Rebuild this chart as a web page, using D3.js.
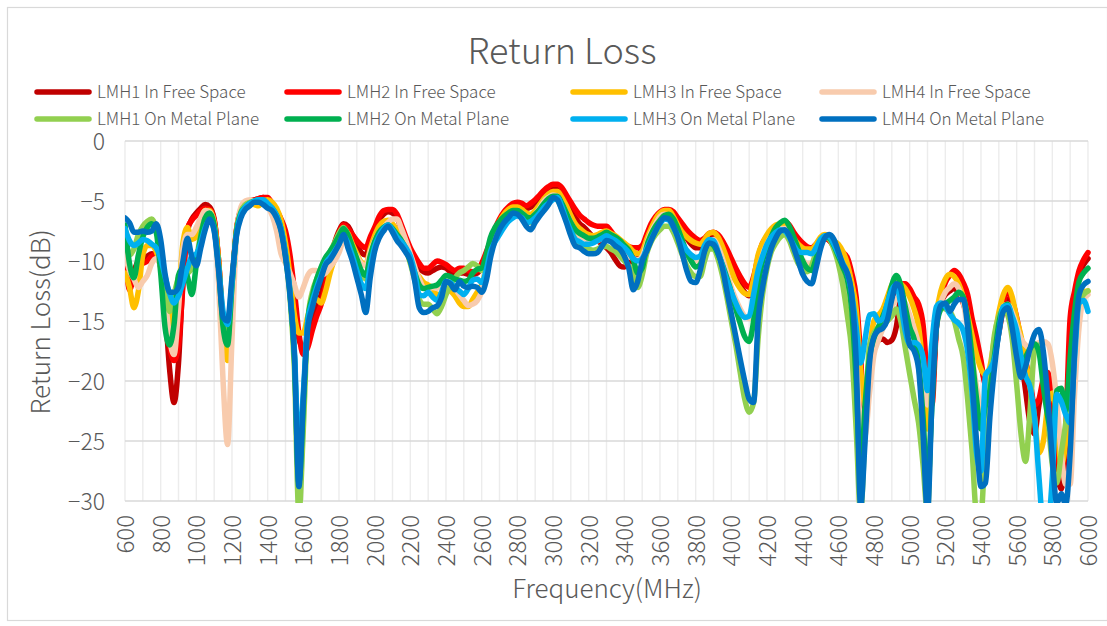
<!DOCTYPE html>
<html>
<head>
<meta charset="utf-8">
<script src="https://cdn.jsdelivr.net/npm/d3@7"></script>
<style>
body { margin: 0; background: #fff; }
text { font-family: "Noto Sans CJK SC", "Noto Sans", sans-serif; fill: #595959; font-weight: 300; }
</style>
</head>
<body>
<svg id="chart" width="1107" height="626"></svg>
<script>
// frequency axis, one sample every 25 MHz
var freqs = d3.range(600, 6001, 25);
var xTicks = d3.range(600, 6001, 200);
var yTicks = [0, -5, -10, -15, -20, -25, -30];

var names = ['LMH1 In Free Space', 'LMH2 In Free Space', 'LMH3 In Free Space', 'LMH4 In Free Space',
             'LMH1 On Metal Plane', 'LMH2 On Metal Plane', 'LMH3 On Metal Plane', 'LMH4 On Metal Plane'];
var colors = ['#C00000', '#FF0000', '#FFC000', '#F8CBAD', '#92D050', '#00B050', '#00B0F0', '#0070C0'];

// each line = 200 MHz (8 samples)
var lmh1Free = [
  -8.5, -11.5, -10.8, -10.0, -9.8, -9.6, -9.4, -9.5,
  -10.5, -14.0, -19.0, -21.8, -18.5, -11.5, -7.5, -6.5,
  -6.0, -5.6, -5.3, -5.5, -6.5, -10.0, -15.0, -16.5,
  -12.0, -7.4, -5.7, -5.2, -5.0, -4.9, -4.8, -4.7,
  -4.8, -5.3, -6.0, -6.9, -8.2, -10.5, -13.5, -16.5,
  -17.2, -16.5, -15.3, -14.0, -12.8, -11.3, -9.8, -8.5,
  -7.5, -6.9, -7.1, -7.8, -8.6, -9.3, -9.5, -8.4,
  -7.5, -6.6, -6.1, -5.9, -6.0, -6.4, -7.3, -8.4,
  -9.3, -10.0, -10.6, -10.9, -11.0, -10.8, -10.6, -10.5,
  -10.6, -10.9, -11.1, -11.0, -11.0, -11.1, -11.1, -11.0,
  -10.5, -9.5, -8.5, -7.5, -6.7, -6.1, -5.7, -5.4,
  -5.3, -5.4, -5.6, -5.5, -5.2, -4.8, -4.4, -4.1,
  -3.9, -3.9, -4.3, -5.0, -5.7, -6.4, -6.9, -7.2,
  -7.6, -8.0, -8.3, -8.6, -8.9, -9.3, -9.9, -10.4,
  -10.5, -10.2, -9.8, -9.5, -9.0, -8.0, -7.1, -6.5,
  -6.1, -5.9, -5.9, -6.2, -6.8, -7.5, -8.1, -8.6,
  -8.9, -8.9, -8.4, -7.9, -7.8, -8.2, -8.9, -9.7,
  -10.5, -11.3, -12.0, -12.6, -12.9, -12.0, -10.2, -8.9,
  -8.2, -7.7, -7.3, -7.1, -7.0, -7.3, -7.9, -8.5,
  -8.9, -9.2, -9.3, -8.9, -8.4, -8.1, -8.3, -8.8,
  -9.2, -9.6, -10.2, -11.8, -15.5, -21, -24, -20,
  -17.5, -16.6, -16.5, -16.8, -16.6, -15.5, -13.0, -12.2,
  -12.5, -13.2, -14.2, -17, -22, -21, -15.5, -13.5,
  -12.8, -12.5, -12.3, -12.7, -13.5, -14.8, -16.3, -17.6,
  -18.8, -20.0, -19.6, -18.0, -16.0, -14.0, -13.2, -14.0,
  -15.6, -18.0, -20.8, -23.5, -24.4, -22, -20.5, -21.5,
  -24.0, -27.5, -29, -25, -16.5, -13.0, -11.2, -10.3,
  -9.8
];
var lmh2Free = [
  -8.3, -12.4, -11.3, -10.4, -10.2, -10.0, -9.6, -9.4,
  -10.0, -13.0, -17.0, -18.3, -17.0, -12.0, -7.3, -6.6,
  -6.2, -5.8, -5.6, -5.7, -6.6, -10.0, -15.5, -16.5,
  -12.0, -7.5, -5.8, -5.2, -5.0, -4.9, -4.8, -4.7,
  -4.7, -5.2, -5.8, -6.5, -7.5, -9.5, -12.5, -16.0,
  -17.8, -17.2, -15.8, -14.6, -13.6, -12.0, -10.2, -8.8,
  -7.7, -7.0, -7.3, -7.8, -8.3, -8.7, -8.9, -8.0,
  -7.2, -6.3, -5.8, -5.7, -5.7, -6.1, -7.0, -8.0,
  -8.9, -9.6, -10.2, -10.6, -10.6, -10.3, -10.0, -10.1,
  -10.3, -10.6, -10.8, -10.6, -10.6, -10.8, -10.9, -10.8,
  -10.2, -9.3, -8.3, -7.3, -6.5, -5.9, -5.5, -5.2,
  -5.1, -5.2, -5.4, -5.2, -4.9, -4.5, -4.1, -3.8,
  -3.6, -3.6, -3.9, -4.5, -5.1, -5.7, -6.2, -6.5,
  -6.8, -7.0, -7.1, -7.1, -7.1, -7.5, -8.0, -8.3,
  -8.6, -8.8, -8.9, -8.9, -8.7, -7.8, -6.9, -6.3,
  -5.9, -5.7, -5.7, -5.9, -6.4, -6.9, -7.4, -7.8,
  -8.1, -8.3, -8.1, -7.7, -7.6, -7.8, -8.3, -9.0,
  -9.8, -10.6, -11.3, -11.9, -12.2, -11.3, -9.7, -8.5,
  -8.0, -7.6, -7.2, -6.9, -6.7, -7.0, -7.6, -8.1,
  -8.5, -8.8, -8.9, -8.6, -8.2, -8.0, -8.3, -8.7,
  -9.0, -9.3, -9.7, -11.0, -13.0, -18, -24, -19,
  -16.5, -15.8, -15.0, -14.0, -13.0, -12.3, -11.9, -11.9,
  -12.3, -13.0, -13.6, -15.3, -20, -22, -15.5, -13.0,
  -11.8, -11.2, -10.8, -11.1, -11.8, -12.8, -14.8, -16.4,
  -18.3, -20.3, -19.5, -17.8, -15.8, -13.5, -12.5, -13.3,
  -14.7, -16.6, -18.3, -20.0, -22, -21.5, -19.8, -19.3,
  -21.5, -25, -28, -24, -14.7, -12.5, -10.8, -9.9,
  -9.3
];
var lmh3Free = [
  -11.0, -12.2, -13.9, -12.5, -9.5, -8.7, -8.7, -9.2,
  -10.5, -12.5, -13.9, -16.2, -13, -8.5, -7.2, -8.2,
  -8.0, -6.6, -5.8, -5.8, -6.8, -10.0, -15.5, -18.3,
  -12.5, -7.5, -5.9, -5.4, -5.2, -5.3, -5.4, -5.0,
  -4.9, -5.1, -5.6, -6.6, -8.5, -11.2, -14.5, -16.0,
  -16.0, -14.6, -13.5, -13.2, -13.5, -12.5, -11.0, -9.8,
  -8.5, -7.4, -7.7, -8.6, -9.4, -10.1, -10.3, -9.0,
  -7.9, -7.1, -6.7, -6.6, -6.9, -7.4, -8.0, -8.9,
  -10.0, -10.8, -11.3, -11.8, -12.0, -12.3, -12.8, -12.8,
  -12.3, -12.5, -12.9, -13.5, -13.8, -13.8, -13.2, -12.6,
  -12.0, -10.6, -8.9, -7.6, -6.7, -6.1, -5.7, -5.5,
  -5.5, -5.7, -6.0, -6.1, -5.8, -5.3, -4.8, -4.4,
  -4.2, -4.2, -4.7, -5.4, -6.2, -6.9, -7.3, -7.6,
  -7.8, -7.9, -7.8, -7.6, -7.5, -7.7, -7.9, -8.2,
  -8.5, -8.8, -9.2, -9.4, -9.2, -8.2, -7.3, -6.5,
  -6.0, -5.8, -5.8, -6.3, -7.0, -7.6, -8.0, -8.3,
  -8.5, -8.6, -8.2, -7.7, -7.6, -8.0, -8.8, -9.8,
  -10.8, -11.7, -12.3, -12.7, -12.8, -11.5, -9.5, -8.5,
  -7.8, -7.3, -7.0, -6.9, -7.0, -7.5, -8.1, -8.6,
  -8.9, -9.0, -9.0, -8.6, -8.0, -7.8, -8.0, -8.3,
  -8.6, -9.2, -10.2, -11.8, -14, -19, -22, -17.5,
  -15.0, -14.5, -14.0, -13.0, -12.0, -11.6, -11.9, -12.3,
  -13.0, -14.0, -15.5, -19, -24, -19, -14.5, -12.5,
  -11.5, -11.1, -11.3, -11.9, -13.0, -14.5, -16.2, -17.8,
  -19.0, -19.5, -18.8, -16.5, -14.3, -12.8, -12.2, -13.0,
  -14.8, -16.3, -18.3, -20.5, -23, -26, -25, -22,
  -21, -23, -27, -25, -20, -15.5, -13.3, -12.6,
  -12.5
];
var lmh4Free = [
  -9.5, -10.8, -11.5, -12.2, -11.7, -11.2, -10.2, -9.8,
  -10.5, -13.0, -16.5, -17.8, -14.0, -9.0, -7.8, -7.8,
  -7.2, -6.4, -5.8, -5.9, -7.0, -12.0, -20, -25.3,
  -16.5, -8.0, -5.5, -5.0, -4.9, -5.0, -5.1, -5.1,
  -5.5, -6.2, -7.5, -9.4, -10.2, -11.0, -12.0, -13.0,
  -12.2, -11.2, -10.8, -10.8, -11.2, -11.0, -10.5, -10.0,
  -9.3, -8.4, -8.4, -9.0, -9.6, -10.2, -10.4, -9.2,
  -8.3, -7.6, -7.2, -6.8, -6.5, -6.5, -7.3, -8.3,
  -9.4, -10.5, -11.5, -12.2, -12.3, -12.2, -12.3, -12.0,
  -11.6, -11.9, -12.3, -12.8, -13.3, -13.7, -13.6, -13.3,
  -12.5, -10.5, -9.0, -7.8, -7.0, -6.5, -6.2, -6.0,
  -5.9, -6.0, -6.3, -6.5, -6.1, -5.6, -5.0, -4.7,
  -4.5, -4.6, -5.2, -6.0, -6.8, -7.5, -7.9, -8.1,
  -8.3, -8.4, -8.3, -8.1, -7.9, -8.2, -8.6, -9.0,
  -9.3, -9.6, -9.8, -9.9, -9.6, -8.6, -7.6, -6.9,
  -6.3, -6.1, -6.2, -6.7, -7.5, -8.5, -9.3, -9.8,
  -10.0, -9.8, -8.9, -8.3, -8.2, -8.8, -9.8, -11.0,
  -12.2, -13.2, -14.0, -14.6, -14.8, -13.2, -11.0, -9.5,
  -8.6, -7.9, -7.5, -7.3, -7.3, -7.8, -8.6, -9.4,
  -9.9, -10.2, -10.2, -9.4, -8.6, -8.0, -8.1, -8.7,
  -9.5, -10.5, -11.8, -14, -18.5, -23.5, -24.5, -21,
  -17.8, -16.6, -15.6, -14.6, -13.8, -13.2, -13.0, -13.5,
  -14.5, -15.6, -17.0, -19.5, -22, -20, -15.5, -13.5,
  -12.6, -12.2, -11.9, -12.3, -13.4, -15.5, -18.0, -20.5,
  -22.5, -24, -22, -17.5, -15.0, -13.8, -13.6, -14.3,
  -15.4, -16.5, -17.0, -17.3, -17.0, -16.8, -16.7, -16.9,
  -18.5, -21.7, -26, -28.6, -28.6, -21, -15.5, -13.2,
  -12.8
];
var lmh1Metal = [
  -7.5, -9.5, -9.0, -7.8, -7.1, -6.7, -6.5, -7.3,
  -9.5, -12.3, -14.2, -12.8, -11.4, -11.0, -11.0, -10.6,
  -9.8, -7.8, -6.4, -6.2, -7.2, -10.5, -15.0, -16.5,
  -12, -7.6, -5.9, -5.3, -5.1, -5.0, -4.9, -5.0,
  -5.3, -5.7, -6.3, -7.4, -9.6, -13, -19, -31,
  -24, -15, -12.6, -11.5, -10.6, -9.8, -9.2, -8.5,
  -7.7, -7.2, -7.8, -8.9, -10.0, -11.0, -11.5, -9.8,
  -8.5, -7.6, -7.2, -7.0, -7.3, -7.8, -8.3, -9.0,
  -10.2, -11.6, -13.2, -13.6, -13.6, -14.0, -14.4, -13.8,
  -12.8, -12.0, -11.4, -11.0, -10.8, -10.5, -10.2, -10.4,
  -10.8, -10.0, -8.6, -7.6, -7.0, -6.6, -6.3, -6.1,
  -6.1, -6.3, -6.7, -6.8, -6.4, -5.9, -5.4, -5.0,
  -4.7, -4.9, -5.7, -6.6, -7.5, -8.2, -8.5, -8.8,
  -9.0, -9.1, -9.0, -8.8, -8.8, -9.0, -9.2, -9.6,
  -10.0, -10.4, -11.0, -12.2, -11.2, -9.4, -8.4, -7.8,
  -7.4, -7.1, -7.1, -7.6, -8.5, -9.5, -10.4, -11.0,
  -11.3, -11.3, -10.0, -9.0, -9.0, -9.8, -11.2, -13.0,
  -15.0, -17.0, -19.3, -21.5, -22.6, -21.8, -16.5, -12.8,
  -10.6, -9.2, -8.5, -8.0, -7.8, -8.3, -9.3, -10.2,
  -10.7, -10.9, -10.4, -9.3, -8.5, -8.0, -8.2, -9.0,
  -10.2, -12.0, -14.5, -17.5, -24, -31, -24, -17,
  -16, -15.5, -15.3, -15.0, -14.6, -14.0, -15.0, -17.2,
  -19.4, -21.5, -23.5, -27, -31, -20, -15, -13.9,
  -14.0, -14.2, -15.0, -16.5, -18, -21.5, -25.8, -31,
  -31, -25, -20, -16.2, -14.6, -14.0, -14.5, -16.5,
  -20.3, -24.5, -26.7, -22.5, -17.5, -17.0, -19, -23,
  -27, -28.5, -26, -23.5, -20, -16, -13.5, -12.8,
  -12.5
];
var lmh2Metal = [
  -7.0, -10.2, -11.4, -9.5, -8.0, -7.2, -6.9, -7.6,
  -11.0, -15.6, -17.0, -15.3, -11.2, -10.6, -11.3, -12.8,
  -10.3, -8.0, -6.4, -6.0, -7.0, -10.5, -15.5, -17.0,
  -12, -7.6, -6.0, -5.5, -5.2, -5.0, -4.9, -5.0,
  -5.3, -5.6, -6.2, -7.3, -9.5, -12.6, -18, -28.5,
  -22, -15, -13, -11.5, -10.5, -9.7, -9.2, -8.6,
  -7.9, -7.3, -7.8, -8.8, -9.8, -10.8, -11.2, -9.6,
  -8.4, -7.6, -7.2, -7.0, -7.3, -7.8, -8.3, -9.0,
  -10.0, -11.0, -12.0, -12.3, -12.2, -12.1, -12.0, -11.6,
  -11.2, -11.3, -11.5, -11.6, -11.7, -11.6, -11.0, -10.7,
  -10.6, -9.5, -8.0, -7.2, -6.7, -6.3, -6.0, -5.8,
  -5.8, -6.0, -6.3, -6.4, -6.1, -5.7, -5.2, -4.8,
  -4.6, -4.6, -5.2, -6.0, -6.8, -7.4, -7.7, -7.9,
  -8.1, -8.1, -8.0, -7.8, -7.6, -7.8, -8.0, -8.3,
  -8.7, -9.1, -9.9, -11.0, -10.6, -8.8, -7.8, -7.1,
  -6.6, -6.2, -6.1, -6.5, -7.3, -8.3, -9.3, -10.0,
  -10.5, -10.3, -9.1, -8.5, -8.7, -9.4, -10.3, -11.4,
  -12.6, -14.0, -15.2, -16.3, -16.7, -15.0, -12.0, -10.0,
  -8.8, -7.9, -7.2, -6.8, -6.6, -7.1, -8.0, -9.0,
  -10.0, -10.6, -10.8, -9.8, -8.7, -8.0, -8.1, -8.7,
  -9.6, -10.5, -11.5, -14, -20, -28, -22, -18,
  -16.4, -15.5, -14.6, -13.6, -12.0, -11.2, -12.0, -13.8,
  -15.5, -16.5, -18.5, -23, -29, -22, -15.5, -14.0,
  -13.6, -13.3, -13.0, -12.6, -13.0, -14.8, -18, -21.5,
  -24, -22, -20.8, -18, -15.2, -13.9, -13.6, -15.2,
  -17.5, -18.5, -18.0, -17.3, -16.9, -17.6, -20.5, -23,
  -24.5, -20.8, -20.6, -22.5, -18, -14.2, -11.7, -11.0,
  -10.6
];
var lmh3Metal = [
  -7.3, -8.3, -8.7, -8.5, -8.2, -8.3, -8.6, -8.9,
  -9.8, -11.3, -12.7, -13.5, -12.9, -11.8, -10.6, -9.6,
  -9.4, -8.5, -7.2, -6.6, -7.4, -10.5, -14.2, -15.3,
  -11.8, -7.8, -6.1, -5.5, -5.2, -5.0, -4.9, -4.9,
  -5.2, -5.6, -6.2, -7.3, -9.4, -12.5, -17.5, -26,
  -21, -15, -13.4, -12.2, -11.2, -10.2, -9.7, -9.2,
  -8.6, -7.9, -8.5, -9.6, -10.8, -11.9, -12.3, -10.5,
  -8.8, -7.9, -7.3, -7.0, -7.4, -8.0, -8.4, -8.9,
  -9.6, -11.0, -12.8, -12.9, -12.6, -13.0, -13.3, -12.6,
  -11.7, -11.8, -12.2, -12.5, -12.8, -12.3, -11.6, -11.5,
  -11.8, -10.8, -9.2, -8.4, -7.8, -7.2, -6.7, -6.4,
  -6.25, -6.4, -6.8, -6.7, -6.4, -6.0, -5.5, -5.2,
  -4.9, -4.7, -5.5, -6.6, -7.5, -8.2, -8.4, -8.6,
  -8.6, -8.5, -8.3, -8.1, -7.9, -8.1, -8.3, -8.6,
  -8.9, -9.3, -9.8, -10.0, -9.8, -9.0, -8.2, -7.5,
  -6.9, -6.5, -6.6, -7.2, -7.9, -8.6, -9.1, -9.5,
  -9.7, -9.6, -8.7, -8.2, -8.3, -9.2, -10.4, -11.6,
  -12.6, -13.5, -14.3, -14.7, -14.6, -12.8, -10.8, -9.6,
  -8.6, -8.0, -7.6, -7.4, -7.5, -8.0, -8.7, -9.2,
  -9.3, -9.3, -9.4, -8.9, -8.2, -7.9, -8.0, -8.6,
  -9.4, -10.2, -11.0, -12.7, -15.5, -18.5, -16.5, -14.5,
  -14.4, -15.0, -14.8, -13.5, -12.4, -12.0, -13.6, -15.8,
  -16.9, -16.8, -17.0, -18, -20.8, -16.8, -13.8, -13.5,
  -13.8, -14.4, -14.9, -15.2, -15.8, -17.5, -21, -26,
  -27.5, -19.5, -19.0, -18.2, -16.0, -13.8, -13.7, -14.6,
  -15.8, -18, -19.6, -20.5, -23, -28, -32, -32,
  -28, -21.1, -21.7, -22.8, -23.5, -18, -13.5, -13.3,
  -14.2
];
var lmh4Metal = [
  -6.4, -6.8, -7.6, -7.6, -7.5, -7.6, -7.5, -6.9,
  -8.2, -11.1, -12.6, -12.6, -12.2, -10.0, -8.1, -9.7,
  -10.4, -8.9, -7.4, -6.5, -7.5, -10.8, -14.7, -15.0,
  -11.4, -7.9, -6.4, -5.7, -5.4, -5.1, -5.1, -5.3,
  -5.6, -5.8, -6.4, -7.5, -9.7, -12.8, -17.8, -28.8,
  -21.5, -15.6, -13.9, -12.5, -11.4, -10.3, -9.9, -9.3,
  -8.6, -7.8, -8.9, -10.0, -11.4, -12.8, -14.3, -11.4,
  -9.2, -8.1, -7.5, -7.1, -7.6, -8.3, -8.75, -9.3,
  -10.0, -11.7, -13.9, -14.3, -14.2, -13.9, -13.75, -13.05,
  -11.7, -11.9, -12.4, -11.7, -12.1, -12.2, -12.1, -12.2,
  -12.6, -11.7, -9.7, -8.3, -7.4, -6.8, -6.4, -6.0,
  -6.1, -6.5, -7.1, -7.4, -6.8, -6.25, -5.8, -5.3,
  -4.7, -4.9, -5.8, -6.8, -7.9, -8.75, -8.9, -9.2,
  -9.4, -9.4, -9.3, -8.75, -8.3, -8.4, -8.75, -9.0,
  -9.6, -10.6, -12.4, -11.7, -10.0, -9.2, -8.3, -7.5,
  -6.8, -6.4, -6.5, -7.1, -8.05, -9.4, -10.8, -11.7,
  -11.8, -10.8, -9.2, -8.5, -8.6, -9.3, -10.6, -12.5,
  -14.4, -16.3, -18.2, -20.0, -21.5, -21.8, -15.0, -12.2,
  -10.3, -8.9, -8.05, -7.5, -7.4, -7.9, -8.9, -10.0,
  -11.1, -11.7, -11.9, -10.6, -9.0, -8.05, -7.8, -8.2,
  -9.2, -10.3, -11.0, -12.8, -18.3, -30.5, -25, -18.5,
  -16.3, -15.8, -15.6, -14.9, -13.2, -11.9, -12.3, -14.8,
  -17.0, -17.5, -19.0, -24.4, -31, -21.7, -15.5, -13.7,
  -13.5, -14.2, -13.6, -13.2, -13.2, -15.5, -20, -25,
  -28.8, -28.5, -23, -19, -15.9, -14.2, -13.9, -15.6,
  -18.0, -19.7, -18.8, -17.3, -16.1, -15.7, -17.6, -21.5,
  -26.5, -30.2, -29.4, -30.3, -26, -17.5, -12.8, -12,
  -11.7
];

var series = [lmh1Free, lmh2Free, lmh3Free, lmh4Free, lmh1Metal, lmh2Metal, lmh3Metal, lmh4Metal];

var width = 1107, height = 626;
var plot = {left: 125, right: 1088, top: 141, bottom: 501};

var svg = d3.select('#chart');

// outer frame of the chart area
svg.append('rect')
  .attr('x', 7.5).attr('y', 7.5)
  .attr('width', 1100).attr('height', 613)
  .attr('fill', '#fff').attr('stroke', '#d9d9d9').attr('stroke-width', 1.2);

var x = d3.scaleLinear().domain([600, 6000]).range([plot.left, plot.right]);
var y = d3.scaleLinear().domain([-30, 0]).range([plot.bottom, plot.top]);

// vertical gridlines every 100 MHz
svg.append('g').selectAll('line')
  .data(d3.range(600, 6001, 100))
  .enter().append('line')
  .attr('x1', function (d) { return x(d); })
  .attr('x2', function (d) { return x(d); })
  .attr('y1', plot.top).attr('y2', plot.bottom)
  .attr('stroke', '#ececec').attr('stroke-width', 1.4);

// horizontal gridlines
svg.append('g').selectAll('line')
  .data(yTicks)
  .enter().append('line')
  .attr('x1', plot.left).attr('x2', plot.right)
  .attr('y1', function (d) { return y(d); })
  .attr('y2', function (d) { return y(d); })
  .attr('stroke', '#d9d9d9').attr('stroke-width', 1.4);

// y axis labels
var yAxis = svg.append('g')
  .attr('transform', 'translate(' + (plot.left - 20) + ',0)')
  .call(d3.axisLeft(y).tickValues(yTicks).tickSize(0).tickFormat(d3.format('d')));
yAxis.select('.domain').remove();
yAxis.selectAll('text')
  .attr('x', 0).attr('dy', '0.35em')
  .style('font-size', '23px').style('font-family', null);

// x axis labels, rotated
var xAxis = svg.append('g')
  .attr('transform', 'translate(0,' + plot.bottom + ')')
  .call(d3.axisBottom(x).tickValues(xTicks).tickSize(0).tickFormat(d3.format('d')));
xAxis.select('.domain').remove();
xAxis.selectAll('text')
  .attr('transform', 'rotate(-90)')
  .attr('text-anchor', 'end')
  .attr('x', -14).attr('y', 0).attr('dy', '0.35em')
  .style('font-size', '24px').style('font-family', null);

// clip lines to the plot area
svg.append('clipPath').attr('id', 'plotclip')
  .append('rect')
  .attr('x', plot.left).attr('y', plot.top - 10)
  .attr('width', plot.right - plot.left + 10)
  .attr('height', plot.bottom - plot.top + 12);

var line = d3.line()
  .x(function (d, i) { return x(freqs[i]); })
  .y(function (d) { return y(d); })
  .curve(d3.curveMonotoneX);

svg.append('g').attr('clip-path', 'url(#plotclip)')
  .selectAll('path')
  .data(series)
  .enter().append('path')
  .attr('d', line)
  .attr('fill', 'none')
  .attr('stroke', function (d, i) { return colors[i]; })
  .attr('stroke-width', 5.5)
  .attr('stroke-linejoin', 'round')
  .attr('stroke-linecap', 'round');

// title
svg.append('text')
  .attr('x', 562).attr('y', 64)
  .attr('text-anchor', 'middle')
  .style('font-size', '36px')
  .text('Return Loss');

// legend
var legendX = [37, 287, 573, 822];
var legendY = [92, 119];
var leg = svg.append('g').selectAll('g')
  .data(names)
  .enter().append('g')
  .attr('transform', function (d, i) {
    return 'translate(' + legendX[i % 4] + ',' + legendY[Math.floor(i / 4)] + ')';
  });
leg.append('line')
  .attr('x1', 0).attr('x2', 52).attr('y1', 0).attr('y2', 0)
  .attr('stroke', function (d, i) { return colors[i]; })
  .attr('stroke-width', 5.5).attr('stroke-linecap', 'round');
leg.append('text')
  .attr('x', 60).attr('dy', '0.35em')
  .style('font-size', '17px')
  .text(function (d) { return d; });

// axis titles
svg.append('text')
  .attr('transform', 'translate(50,322) rotate(-90)')
  .attr('text-anchor', 'middle')
  .style('font-size', '26px')
  .text('Return Loss(dB)');

svg.append('text')
  .attr('x', 607).attr('y', 598)
  .attr('text-anchor', 'middle')
  .style('font-size', '26px')
  .text('Frequency(MHz)');
</script>
</body>
</html>
